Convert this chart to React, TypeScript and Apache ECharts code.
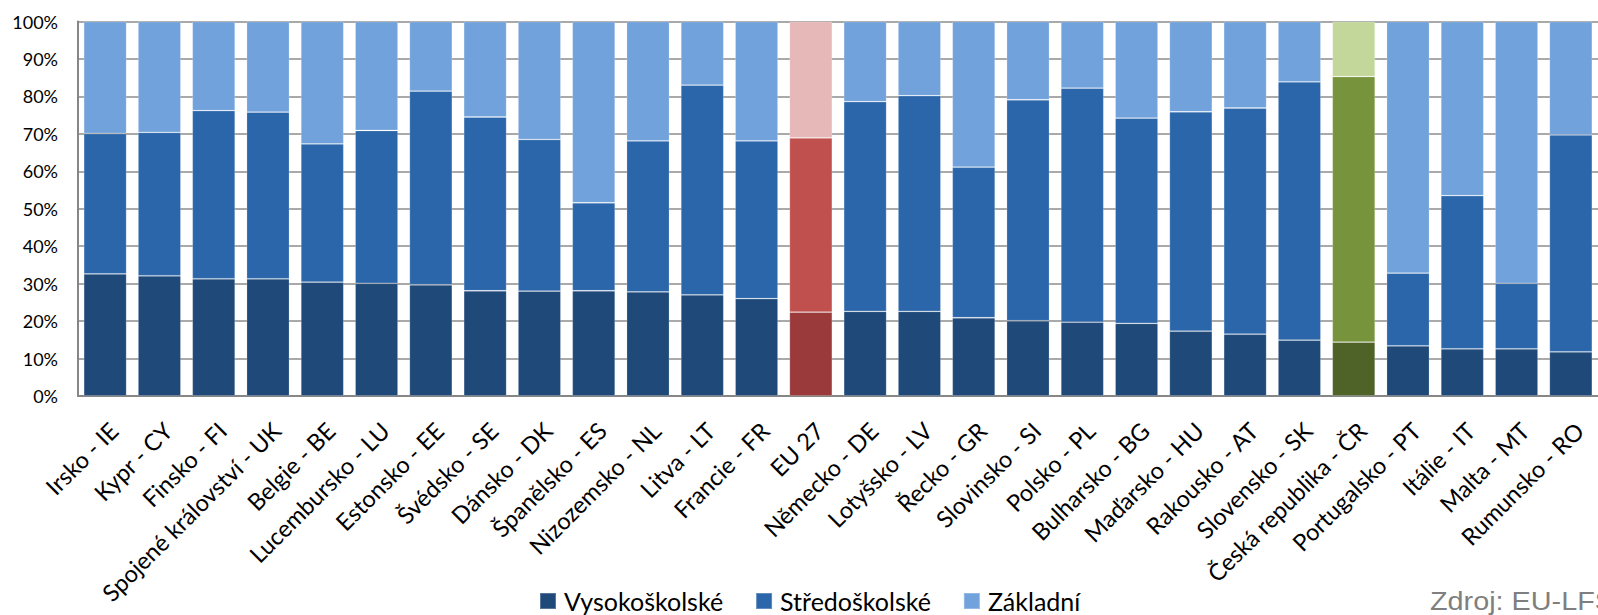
import React, { useEffect, useRef } from "react";
import * as echarts from "echarts";

const categories = [
  "Irsko - IE", "Kypr - CY", "Finsko - FI", "Spojené království - UK", "Belgie - BE",
  "Lucembursko - LU", "Estonsko - EE", "Švédsko - SE", "Dánsko - DK", "Španělsko - ES",
  "Nizozemsko - NL", "Litva - LT", "Francie - FR", "EU 27", "Německo - DE",
  "Lotyšsko - LV", "Řecko - GR", "Slovinsko - SI", "Polsko - PL", "Bulharsko - BG",
  "Maďarsko - HU", "Rakousko - AT", "Slovensko - SK", "Česká republika - ČR", "Portugalsko - PT",
  "Itálie - IT", "Malta - MT", "Rumunsko - RO",
];

const vysokoskolske = [32.6, 32.1, 31.3, 31.3, 30.4, 30.1, 29.7, 28.1, 28.0, 28.1, 27.8, 27.0, 26.0, 22.4, 22.6, 22.6, 20.9, 20.1, 19.7, 19.4, 17.3, 16.5, 14.9, 14.4, 13.4, 12.6, 12.6, 11.8];
const stredoskolske = [37.5, 38.3, 44.9, 44.5, 36.9, 40.8, 51.7, 46.4, 40.5, 23.5, 40.3, 56.0, 42.1, 46.5, 56.0, 57.6, 40.2, 59.0, 62.5, 54.8, 58.6, 60.4, 69.0, 70.9, 19.4, 40.9, 17.5, 57.9];
const zakladni = [29.9, 29.6, 23.8, 24.2, 32.7, 29.1, 18.6, 25.5, 31.5, 48.4, 31.9, 17.0, 31.9, 31.1, 21.4, 19.8, 38.9, 20.9, 17.8, 25.8, 24.1, 23.1, 16.1, 14.7, 67.2, 46.5, 69.9, 30.3];

const seriesNames = ["Vysokoškolské", "Středoškolské", "Základní"];
const sourceText = "Zdroj: EU-LFS";
const blueColors = ["#1f4979", "#2b66ab", "#71a2db"];
const euColors = ["#9b3a3a", "#c0504e", "#e6b8b7"];
const czColors = ["#4f6228", "#77933c", "#c4d79b"];
const highlightEU = "EU 27";
const highlightCZ = "Česká republika - ČR";

const FONT = "Lato";

export default function App() {
  const ref = useRef<HTMLDivElement>(null);
  useEffect(() => {
    document.body.style.margin = "0";
    const chart = echarts.init(ref.current!, undefined, { renderer: "svg" });
    const all = [vysokoskolske, stredoskolske, zakladni];
    const series = all.map((vals, si) => ({
      name: seriesNames[si],
      type: "bar",
      stack: "total",
      barCategoryGap: "21%",
      itemStyle: { color: blueColors[si], borderColor: "rgba(255,255,255,0.25)", borderWidth: 0.8 },
      data: vals.map((v, i) => {
        const c = categories[i];
        if (c === highlightEU) return { value: v, itemStyle: { color: euColors[si] } };
        if (c === highlightCZ) return { value: v, itemStyle: { color: czColors[si] } };
        return v;
      }),
    }));
    chart.setOption({
      animation: false,
      textStyle: { fontFamily: FONT },
      grid: {
        left: 78,
        right: 0,
        top: 21.5,
        bottom: 219,
        containLabel: false,
        outerBoundsMode: "none",
      },
      legend: {
        data: seriesNames,
        left: 534,
        top: 583,
        itemWidth: 16,
        itemHeight: 16,
        itemGap: 32,
        icon: "rect",
        textStyle: { fontFamily: FONT, fontSize: 25, lineHeight: 26, color: "#000", padding: [0, 0, 0, 3] },
      },
      xAxis: {
        type: "category",
        data: categories,
        axisLine: { lineStyle: { color: "#868686", width: 2 } },
        axisTick: { show: false },
        axisLabel: {
          rotate: 45,
          interval: 0,
          margin: 22,
          verticalAlign: "top",
          fontFamily: FONT,
          fontSize: 23.5,
          color: "#000",
        },
      },
      yAxis: {
        type: "value",
        min: 0,
        max: 100,
        interval: 10,
        axisLine: { show: true, lineStyle: { color: "#868686", width: 2 } },
        axisTick: { show: false },
        splitLine: { lineStyle: { color: "#8c8c8c", width: 1.5 } },
        axisLabel: {
          formatter: "{value}%",
          fontFamily: FONT,
          fontSize: 18,
          color: "#000",
          margin: 20,
        },
      },
      graphic: [
        {
          type: "text",
          x: 1430,
          y: 601,
          scaleX: 1.13,
          style: {
            x: 0,
            y: 0,
            text: sourceText,
            fontFamily: "Liberation Sans",
            fontSize: 25.5,
            fill: "#7f7f7f",
            align: "left",
            verticalAlign: "middle",
          },
        },
      ],
      series,
    });
    return () => chart.dispose();
  }, []);
  return <div ref={ref} style={{ width: 1598, height: 615 }} />;
}
